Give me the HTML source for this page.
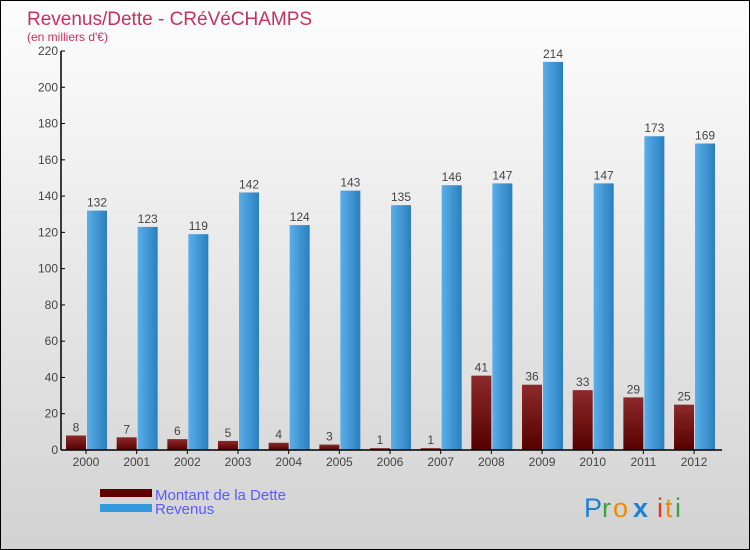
<!DOCTYPE html>
<html><head><meta charset="utf-8"><style>
body{margin:0}
#c{width:748px;height:548px;border:1px solid #000;background:linear-gradient(#fdfdfd,#d2d2d2);position:relative;font-family:"Liberation Sans",sans-serif;overflow:hidden}
</style></head><body>
<div id="c">
<svg width="748" height="548" xmlns="http://www.w3.org/2000/svg" id="s" font-family="'Liberation Sans',sans-serif">
<defs>
<linearGradient id="gd" x1="0" y1="0" x2="0" y2="1"><stop offset="0" stop-color="#8c2a2a"/><stop offset="1" stop-color="#560000"/></linearGradient>
<linearGradient id="gr" x1="0" y1="0" x2="1" y2="0"><stop offset="0" stop-color="#5aaee8"/><stop offset="1" stop-color="#2a7fbf"/></linearGradient>
</defs>
<text x="26" y="24" font-size="19" fill="#c8315f">Revenus/Dette - CRéVéCHAMPS</text>
<text x="26" y="40" font-size="12" fill="#c8315f">(en milliers d'€)</text>
<g id="plot"></g>
<rect x="99" y="488" width="52" height="8" fill="#600000"/>
<rect x="99" y="503" width="52" height="8" fill="#3399dd"/>
<text x="154" y="499" font-size="15" fill="#5a5aff">Montant de la Dette</text>
<text x="154" y="513" font-size="15" fill="#5a5aff">Revenus</text>
<g font-size="27" font-family="'Liberation Sans',sans-serif">
<text x="583" y="516" fill="#1e7fd6">P</text><text x="601" y="516" fill="#3aa040">r</text><text x="612" y="516" fill="#f08a00">o</text><text x="632" y="516" fill="#1e7fd6" font-weight="bold">x</text><text x="656" y="516" fill="#e23a1a">i</text><text x="664" y="516" fill="#f08a00">t</text><text x="674" y="516" fill="#3aa040">i</text>
</g>
</svg>
</div>
<script>
const years=["2000","2001","2002","2003","2004","2005","2006","2007","2008","2009","2010","2011","2012"];
const dette=[8,7,6,5,4,3,1,1,41,36,33,29,25];
const revenus=[132,123,119,142,124,143,135,146,147,214,147,173,169];
const yTicks=[0,20,40,60,80,100,120,140,160,180,200,220];
const NS="http://www.w3.org/2000/svg";
const g=document.getElementById('plot');
const y0=449,yPerUnit=399/220;
function yS(v){return y0-v*yPerUnit;}
function xS(i){return 85+i*50.67;}
function mk(t,a){const e=document.createElementNS(NS,t);for(const k in a)e.setAttribute(k,a[k]);g.appendChild(e);return e;}
yTicks.forEach(v=>{
 const l=mk('line',{x1:60,x2:64,y1:yS(v),y2:yS(v),stroke:'#000'});
 
 
 const t=mk('text',{x:57,y:yS(v)+4,'font-size':12,fill:'#444','text-anchor':'end'});t.textContent=v;
 
 
});
years.forEach((yr,i)=>{
 const x=xS(i);
 const d=mk('rect',{x:x-20,y:yS(dette[i]),width:20,height:dette[i]*yPerUnit,fill:'url(#gd)'});
 
 
 const r=mk('rect',{x:x+1,y:yS(revenus[i]),width:20,height:revenus[i]*yPerUnit,fill:'url(#gr)'});
 
 
 const t1=mk('text',{x:x-10,y:yS(dette[i])-4,'font-size':12,fill:'#444','text-anchor':'middle'});t1.textContent=dette[i];
 
 
 const t2=mk('text',{x:x+11,y:yS(revenus[i])-4,'font-size':12,fill:'#444','text-anchor':'middle'});t2.textContent=revenus[i];
 
 
 const tk=mk('line',{x1:x,x2:x,y1:y0,y2:y0+4,stroke:'#000'});
 
 
 const xl=mk('text',{x:x,y:y0+16,'font-size':12,fill:'#444','text-anchor':'middle'});xl.textContent=yr;
 
 
});
const ya=mk('line',{x1:60,x2:60,y1:yS(220),y2:y0,stroke:'#000','stroke-width':1.5});


const xa=mk('line',{x1:60,x2:721,y1:y0,y2:y0,stroke:'#000','stroke-width':1.5});


</script>
</body></html>
